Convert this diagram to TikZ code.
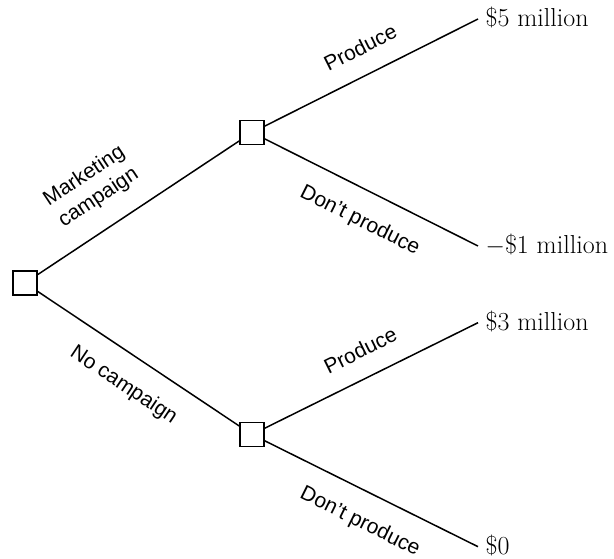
\documentclass[tikz,border=0pt]{standalone}
\usepackage{fontspec}
\newfontfamily\labelfont{Liberation Sans}
\begin{document}
\begin{tikzpicture}[x=1pt,y=1pt,
  decision/.style={draw, line width=1.6pt, minimum size=24pt, inner sep=0pt, fill=white},
  branch/.style={line width=1.5pt},
  edgelabel/.style={font=\labelfont\fontsize{21}{26}\selectfont, inner sep=0pt, sloped, align=center},
  payoff/.style={font=\fontsize{26}{30}\selectfont, anchor=base west, inner sep=0pt, xshift=7.5pt, yshift=-7.5pt}]
\useasboundingbox (0,0) rectangle (614,559);
% decision nodes
\node[decision] (root) at (25,276) {};
\node[decision] (up) at (252,426.5) {};
\node[decision] (low) at (252,124.5) {};
% branch ends
\coordinate (e1) at (478,540);
\coordinate (e2) at (478,313);
\coordinate (e3) at (478,236.3);
\coordinate (e4) at (478,12.3);
% first-stage branches
\draw[branch] (root) -- node[edgelabel, pos=.385, above=19.5pt] {Marketing\\campaign} (up);
\draw[branch] (root) -- node[edgelabel, pos=.51, below=20pt] {No campaign} (low);
% second-stage branches
\draw[branch] (up) -- node[edgelabel, pos=.505, above=19pt] {Produce} (e1);
\draw[branch] (up) -- node[edgelabel, pos=.51, below=20pt] {Don’t produce} (e2);
\draw[branch] (low) -- node[edgelabel, pos=.505, above=19pt] {Produce} (e3);
\draw[branch] (low) -- node[edgelabel, pos=.51, below=20pt] {Don’t produce} (e4);
% payoffs
\node[payoff] (p1) at (e1) {\$5 million};
\node[payoff] (p2) at (e2) {$-$\$1 million};
\node[payoff] (p3) at (e3) {\$3 million};
\node[payoff] (p4) at (e4) {\$0};
\end{tikzpicture}
\end{document}
